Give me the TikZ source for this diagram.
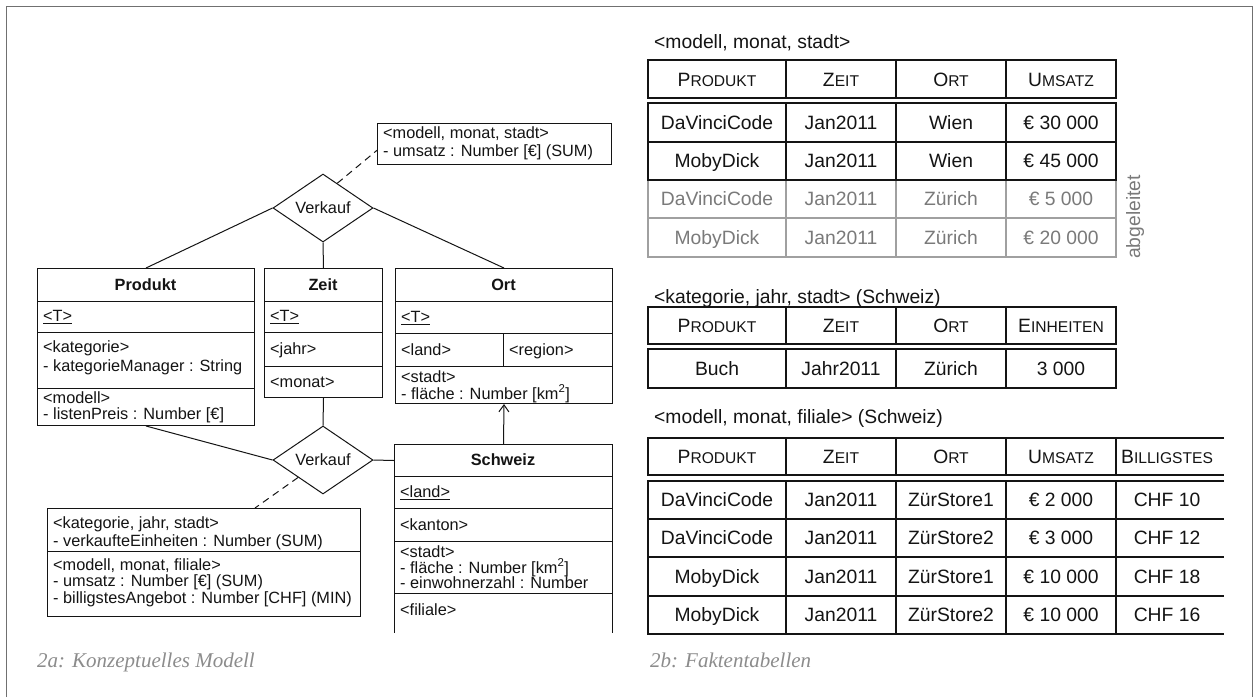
\documentclass[tikz,border=0pt]{standalone}
\usepackage{fontspec}
\setmainfont{Liberation Sans}
\newfontfamily\capfont{Liberation Serif}
\usetikzlibrary{shapes.geometric,arrows.meta,calc}
\newcommand\lfs{\fontsize{16.3}{18}\selectfont}
\newcommand\tfs{\fontsize{19.3}{21}\selectfont}
\newcommand\sca[2]{#1{\fontsize{15.6}{16}\selectfont #2}}
\definecolor{rowgray}{HTML}{7A7A7A}
\definecolor{linegray}{HTML}{A0A0A0}
\definecolor{capgray}{HTML}{8C8C8C}
\definecolor{framegray}{HTML}{707070}
\definecolor{ink}{HTML}{141414}
\begin{document}
\begin{tikzpicture}[x=1pt,y=-1pt,
  box/.style={draw=ink, line width=1pt, rectangle, inner sep=0pt, anchor=north west},
  lt/.style={anchor=base west, inner sep=0pt, font=\lfs, text=ink},
  hd/.style={anchor=center, inner sep=0pt, font=\lfs\bfseries, text=ink},
  rel/.style={diamond, draw=ink, line width=1pt, inner sep=0pt, aspect=1.47, minimum width=100pt, minimum height=68pt, font=\lfs, text=ink},
  conn/.style={draw=ink, line width=1pt},
  dconn/.style={draw=ink, line width=1pt, dash pattern=on 7pt off 5pt},
  sep/.style={draw=ink, line width=1pt},
  tl/.style={draw=ink, line width=1.4pt},
  tlg/.style={draw=linegray, line width=1.4pt},
  tc/.style={anchor=base, inner sep=0pt, font=\tfs, text=ink},
  tcg/.style={anchor=base, inner sep=0pt, font=\tfs, text=rowgray},
  tcap/.style={anchor=base west, inner sep=0pt, font=\tfs, text=ink},
  fcap/.style={anchor=base west, inner sep=0pt, font=\capfont\itshape\fontsize{21}{22}\selectfont, text=capgray}]
\useasboundingbox (0,0) rectangle (1255,697);
\fill[white] (0,0) rectangle (1255,697);
% frame
\draw[framegray, line width=1pt] (6,697) -- (6,6) -- (1252,6) -- (1252,697);

% ---------------- left: conceptual model ----------------
% top fact annotation
\node[box, minimum width=234pt, minimum height=41pt] (ttop) at (377,123) {};
\node[lt] (ttop1) at (383,138.5) {<modell, monat, stadt>};
\node[lt] (ttop2) at (383,156.5) {- umsatz : Number [€] (SUM)};

% relationship diamonds
\node[rel] (d1) at (323,208) {Verkauf};
\node[rel] (d2) at (323,460) {Verkauf};

% Produkt
\node[box, minimum width=217pt, minimum height=157pt] (prod) at (37,268) {};
\draw[sep] (37,301) -- (254,301) (37,332) -- (254,332) (37,388) -- (254,388);
\node[hd] (prodh) at (145.5,284.5) {Produkt};
\node[lt] (prodt) at (43,321.5) {\underline{<T>}};
\node[lt] (prodk1) at (43,352.5) {<kategorie>};
\node[lt] (prodk2) at (43,371.5) {- kategorieManager : String};
\node[lt] (prodm1) at (43,403.5) {<modell>};
\node[lt] (prodm2) at (43,419.5) {- listenPreis : Number [€]};

% Zeit
\node[box, minimum width=118pt, minimum height=129pt] (zeit) at (264,268) {};
\draw[sep] (264,301) -- (382,301) (264,332) -- (382,332) (264,366) -- (382,366);
\node[hd] (zeith) at (323,284.5) {Zeit};
\node[lt] (zeitt) at (270,321.5) {\underline{<T>}};
\node[lt] (zeitj) at (270,354.5) {<jahr>};
\node[lt] (zeitm) at (270,387) {<monat>};

% Ort
\node[box, minimum width=217pt, minimum height=135pt] (ort) at (395,268) {};
\draw[sep] (395,301) -- (612,301) (395,333) -- (612,333) (395,366) -- (612,366) (503,333) -- (503,366);
\node[hd] (orth) at (503.5,284.5) {Ort};
\node[lt] (ortt) at (401,322.5) {\underline{<T>}};
\node[lt] (ortl) at (401,355) {<land>};
\node[lt] (ortr) at (509,355) {<region>};
\node[lt] (orts1) at (401,382.5) {<stadt>};
\node[lt] (orts2) at (401,399) {- fläche : Number [km\textsuperscript{2}]};

% Schweiz (open at the bottom)
\node[box, minimum width=218pt, minimum height=32pt] (schh) at (394,444) {};
\draw[sep] (394,476) -- (394,633) (612,476) -- (612,633);
\draw[sep] (394,508) -- (612,508) (394,541) -- (612,541) (394,593) -- (612,593);
\node[hd] (schht) at (503,460) {Schweiz};
\node[lt] (schl) at (400,497.5) {\underline{<land>}};
\node[lt] (schk) at (400,530) {<kanton>};
\node[lt] (schs1) at (400,557.5) {<stadt>};
\node[lt] (schs2) at (400,573) {- fläche : Number [km\textsuperscript{2}]};
\node[lt] (schs3) at (400,588.5) {- einwohnerzahl : Number};
\node[lt] (schf) at (400,615.5) {<filiale>};

% bottom fact annotation
\node[box, minimum width=313pt, minimum height=108pt] (bbox) at (47,508) {};
\draw[sep] (47,551) -- (360,551);
\node[lt] (bb1) at (53,528.5) {<kategorie, jahr, stadt>};
\node[lt] (bb2) at (53,546.5) {- verkaufteEinheiten : Number (SUM)};
\node[lt] (bb3) at (53,570.5) {<modell, monat, filiale>};
\node[lt] (bb4) at (53,586.5) {- umsatz : Number [€] (SUM)};
\node[lt] (bb5) at (53,603.5) {- billigstesAngebot : Number [CHF] (MIN)};

% connectors
\coordinate (ttopin) at ($(ttop.west)!0.3!(ttop.south west)$);
\coordinate (bboxin) at ($(bbox.north)+(51,0)$);
\draw[conn] (d1.west) -- (prod.north);
\draw[conn] (d1.south) -- (zeit.north);
\draw[conn] (d1.east) -- (ort.north);
\draw[dconn] (d1.60) -- (ttopin);
\draw[conn] (prod.south) -- (d2.west);
\draw[conn] (zeit.south) -- (d2.north);
\draw[conn] (d2.east) -- (schh.west);
\draw[dconn] (d2.215) -- (bboxin);
\draw[conn, -{Straight Barb[length=7pt,width=10pt]}] (schh.north) -- (ort.south);

\node[fcap] (capa) at (37,667) {2a: Konzeptuelles Modell};

% ---------------- right: fact tables ----------------
% table 1
\node[tcap] (cap1) at (654,48) {<modell, monat, stadt>};
\draw[tl] (648,60) rectangle (1116,98);
\foreach \x in {786,896,1006} \draw[tl] (\x,60) -- (\x,98);
\draw[tlg] (648,180) -- (648,257) -- (1116,257) -- (1116,180) (648,218) -- (1116,218);
\foreach \x in {786,896,1006} \draw[tlg] (\x,180) -- (\x,257);
\draw[tl] (648,103) rectangle (1116,180) (648,142) -- (1116,142);
\foreach \x in {786,896,1006} \draw[tl] (\x,103) -- (\x,180);
\node[tc] (a-h1) at (717,86) {\sca{P}{RODUKT}};
\node[tc] (a-h2) at (841,86) {\sca{Z}{EIT}};
\node[tc] (a-h3) at (951,86) {\sca{O}{RT}};
\node[tc] (a-h4) at (1061,86) {\sca{U}{MSATZ}};
\foreach \y/\a/\b/\c/\d [count=\r] in {129.4/DaVinciCode/Jan2011/Wien/€ 30 000, 167.9/MobyDick/Jan2011/Wien/€ 45 000}{
  \node[tc] (a-\r-1) at (717,\y) {\a};
  \node[tc] (a-\r-2) at (841,\y) {\b};
  \node[tc] (a-\r-3) at (951,\y) {\c};
  \node[tc] (a-\r-4) at (1061,\y) {\d};
}
\foreach \y/\a/\b/\c/\d [count=\r] in {205.9/DaVinciCode/Jan2011/Zürich/€ 5 000, 244.4/MobyDick/Jan2011/Zürich/€ 20 000}{
  \node[tcg] (ag-\r-1) at (717,\y) {\a};
  \node[tcg] (ag-\r-2) at (841,\y) {\b};
  \node[tcg] (ag-\r-3) at (951,\y) {\c};
  \node[tcg] (ag-\r-4) at (1061,\y) {\d};
}
\node[anchor=center, inner sep=0pt, font=\tfs, text=rowgray, rotate=90] (abg) at (1135,217) {abgeleitet};

% table 2
\node[tcap] (cap2) at (654,303) {<kategorie, jahr, stadt> (Schweiz)};
\draw[tl] (648,307) rectangle (1116,344) (648,349) rectangle (1116,388);
\foreach \x in {786,896,1006} \draw[tl] (\x,307) -- (\x,344) (\x,349) -- (\x,388);
\node[tc] (b-h1) at (717,332.4) {\sca{P}{RODUKT}};
\node[tc] (b-h2) at (841,332.4) {\sca{Z}{EIT}};
\node[tc] (b-h3) at (951,332.4) {\sca{O}{RT}};
\node[tc] (b-h4) at (1061,332.4) {\sca{E}{INHEITEN}};
\node[tc] (b-1-1) at (717,375.4) {Buch};
\node[tc] (b-1-2) at (841,375.4) {Jahr2011};
\node[tc] (b-1-3) at (951,375.4) {Zürich};
\node[tc] (b-1-4) at (1061,375.4) {3 000};

% table 3 (open on the right)
\node[tcap] (cap3) at (654,423) {<modell, monat, filiale> (Schweiz)};
\draw[tl] (1224,438) -- (648,438) -- (648,475) -- (1224,475);
\draw[tl] (1224,481) -- (648,481) -- (648,634) -- (1224,634);
\draw[tl] (648,519) -- (1224,519) (648,557) -- (1224,557) (648,596) -- (1224,596);
\foreach \x in {786,896,1006,1116} \draw[tl] (\x,438) -- (\x,475) (\x,481) -- (\x,634);
\node[tc] (c-h1) at (717,463.4) {\sca{P}{RODUKT}};
\node[tc] (c-h2) at (841,463.4) {\sca{Z}{EIT}};
\node[tc] (c-h3) at (951,463.4) {\sca{O}{RT}};
\node[tc] (c-h4) at (1061,463.4) {\sca{U}{MSATZ}};
\node[tc] (c-h5) at (1167,463.4) {\sca{B}{ILLIGSTES}};
\foreach \y/\a/\b/\c/\d/\e [count=\r] in {506.9/DaVinciCode/Jan2011/ZürStore1/€ 2 000/CHF 10, 544.9/DaVinciCode/Jan2011/ZürStore2/€ 3 000/CHF 12, 583.4/MobyDick/Jan2011/ZürStore1/€ 10 000/CHF 18, 621.9/MobyDick/Jan2011/ZürStore2/€ 10 000/CHF 16}{
  \node[tc] (c-\r-1) at (717,\y) {\a};
  \node[tc] (c-\r-2) at (841,\y) {\b};
  \node[tc] (c-\r-3) at (951,\y) {\c};
  \node[tc] (c-\r-4) at (1061,\y) {\d};
  \node[tc] (c-\r-5) at (1167,\y) {\e};
}
\node[fcap] (capb) at (650,667) {2b: Faktentabellen};
\end{tikzpicture}
\end{document}
